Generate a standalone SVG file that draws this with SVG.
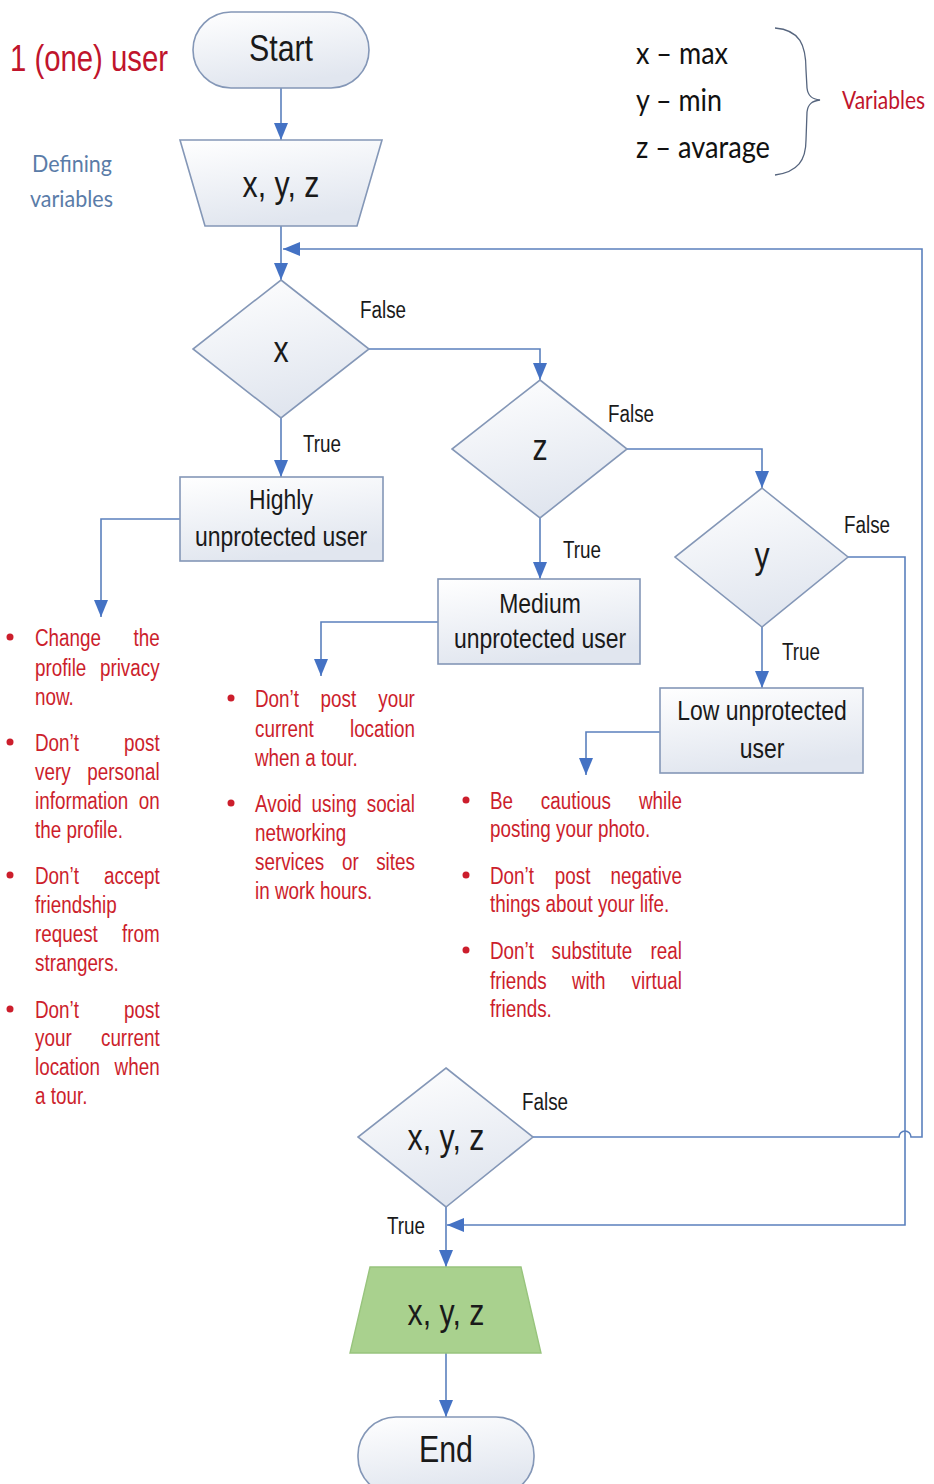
<svg xmlns="http://www.w3.org/2000/svg" width="934" height="1484" viewBox="0 0 934 1484">
  <defs>
    <linearGradient id="shade" x1="0" y1="0" x2="0.3" y2="1">
      <stop offset="0" stop-color="#ffffff"/>
      <stop offset="1" stop-color="#e1e6ef"/>
    </linearGradient>
    <marker id="ah" markerWidth="17" markerHeight="14" refX="17" refY="7" orient="auto" markerUnits="userSpaceOnUse">
      <path d="M0,0 L17,7 L0,14 Z" fill="#4472c4"/>
    </marker>
    <style>
      .shape { fill: url(#shade); stroke: #8497b7; stroke-width: 1.6; }
      .io-end { fill: #a9d18e; stroke: #98c47d; stroke-width: 1.4; }
      .wire { fill: none; stroke: #5b80bd; stroke-width: 1.6; }
      .arrow { marker-end: url(#ah); }
      .lbl { font-family: "Liberation Sans", Arial, sans-serif; fill: #1a1a1a; }
      .node { font-size: 37px; text-anchor: middle; }
      .box { font-size: 28px; text-anchor: middle; }
      .tf { font-size: 23px; }
      .tip { font-family: "Liberation Sans", Arial, sans-serif; font-size: 23px; fill: #cc1e2c; }
      .r { text-anchor: end; }
      .dot { fill: #cc1e2c; }
      .cal { font-family: Lato, "Open Sans", sans-serif; }
    </style>
  </defs>

  <!-- side notes -->
  <g id="note-user">
    <text class="lbl" x="10" y="71" font-size="36" style="fill:#c0142c" textLength="158" lengthAdjust="spacingAndGlyphs">1 (one) user</text>
  </g>
  <g id="note-defining">
    <text class="cal" x="32" y="172" font-size="24" fill="#5a7ca8" textLength="80" lengthAdjust="spacingAndGlyphs">Defining</text>
    <text class="cal" x="30" y="207" font-size="24" fill="#5a7ca8" textLength="83" lengthAdjust="spacingAndGlyphs">variables</text>
  </g>
  <g id="note-variables">
    <text class="cal" x="636" y="64" font-size="30" fill="#111" textLength="92" lengthAdjust="spacingAndGlyphs">x – max</text>
    <text class="cal" x="636" y="111" font-size="30" fill="#111" textLength="86" lengthAdjust="spacingAndGlyphs">y – min</text>
    <text class="cal" x="636" y="158" font-size="30" fill="#111" textLength="134" lengthAdjust="spacingAndGlyphs">z – avarage</text>
    <path d="M775,28 C800,30 806,45 806,70 L807,88 C808,96 812,99 820,100 C812,101 808,104 807,112 L806,140 C806,160 798,172 775,175" fill="none" stroke="#56657e" stroke-width="1.3"/>
    <text class="cal" font-size="25" fill="#c0142c" transform="translate(842,109) scale(0.84,1)">Variables</text>
  </g>

  <!-- connectors -->
  <g id="connectors">
    <path class="wire arrow" d="M281,88 V140"/>
    <path class="wire arrow" d="M281,226 V280"/>
    <path class="wire arrow" d="M533,1137 H899 A6,6 0 0 1 911,1137 H922 V249 H283"/>
    <path class="wire arrow" d="M369,349 H540 V380"/>
    <path class="wire arrow" d="M281,418 V477"/>
    <path class="wire arrow" d="M627,449 H762 V488"/>
    <path class="wire arrow" d="M540,518 V579"/>
    <path class="wire arrow" d="M762,627 V688"/>
    <path class="wire arrow" d="M848,557 H905 V1225 H447"/>
    <path class="wire arrow" d="M180,519 H101 V617"/>
    <path class="wire arrow" d="M438,622 H321 V676"/>
    <path class="wire arrow" d="M660,732 H586 V775"/>
    <path class="wire arrow" d="M446,1207 V1267"/>
    <path class="wire arrow" d="M446,1353 V1417"/>
  </g>

  <!-- nodes (labels use a narrow horizontal scale) -->
  <g id="start">
    <rect class="shape" x="193" y="12" width="176" height="76" rx="38"/>
    <text class="lbl node" transform="translate(281,61) scale(0.82,1)">Start</text>
  </g>
  <g id="input-vars">
    <path class="shape" d="M180,140 H382 L357,226 H205 Z"/>
    <text class="lbl node" transform="translate(281,197) scale(0.82,1)">x, y, z</text>
  </g>
  <g id="decision-x">
    <path class="shape" d="M281,280 L369,349 L281,418 L193,349 Z"/>
    <text class="lbl node" transform="translate(281,362) scale(0.82,1)">x</text>
    <text class="lbl tf" transform="translate(360,318) scale(0.82,1)">False</text>
    <text class="lbl tf" transform="translate(303,452) scale(0.82,1)">True</text>
  </g>
  <g id="decision-z">
    <path class="shape" d="M540,380 L627,449 L540,518 L452,449 Z"/>
    <text class="lbl node" transform="translate(540,460) scale(0.82,1)">z</text>
    <text class="lbl tf" transform="translate(608,422) scale(0.82,1)">False</text>
    <text class="lbl tf" transform="translate(563,558) scale(0.82,1)">True</text>
  </g>
  <g id="decision-y">
    <path class="shape" d="M762,488 L848,557 L762,627 L675,557 Z"/>
    <text class="lbl node" transform="translate(762,568) scale(0.82,1)">y</text>
    <text class="lbl tf" transform="translate(844,533) scale(0.82,1)">False</text>
    <text class="lbl tf" transform="translate(782,660) scale(0.82,1)">True</text>
  </g>
  <g id="highly-unprotected">
    <rect class="shape" x="180" y="477" width="203" height="84"/>
    <text class="lbl box" transform="translate(281,509) scale(0.82,1)">Highly</text>
    <text class="lbl box" transform="translate(281,546) scale(0.82,1)">unprotected user</text>
  </g>
  <g id="medium-unprotected">
    <rect class="shape" x="438" y="579" width="202" height="85"/>
    <text class="lbl box" transform="translate(540,613) scale(0.82,1)">Medium</text>
    <text class="lbl box" transform="translate(540,648) scale(0.82,1)">unprotected user</text>
  </g>
  <g id="low-unprotected">
    <rect class="shape" x="660" y="688" width="203" height="85"/>
    <text class="lbl box" transform="translate(762,720) scale(0.82,1)">Low unprotected</text>
    <text class="lbl box" transform="translate(762,758) scale(0.82,1)">user</text>
  </g>

  <!-- advice lists: justified lines place words at both margins -->
  <g id="tips-high">
    <circle class="dot" cx="10" cy="637" r="3.5"/>
    <circle class="dot" cx="10" cy="742" r="3.5"/>
    <circle class="dot" cx="10" cy="875" r="3.5"/>
    <circle class="dot" cx="10" cy="1009" r="3.5"/>
    <g transform="translate(35,0) scale(0.82,1)">
      <text class="tip" y="646"><tspan x="0">Change</tspan> <tspan class="r" x="152">the</tspan></text>
      <text class="tip" y="676"><tspan x="0">profile</tspan> <tspan class="r" x="152">privacy</tspan></text>
      <text class="tip" x="0" y="705">now.</text>
      <text class="tip" y="751"><tspan x="0">Don’t</tspan> <tspan class="r" x="152">post</tspan></text>
      <text class="tip" y="780"><tspan x="0">very</tspan> <tspan class="r" x="152">personal</tspan></text>
      <text class="tip" y="809"><tspan x="0">information</tspan> <tspan class="r" x="152">on</tspan></text>
      <text class="tip" x="0" y="838">the profile.</text>
      <text class="tip" y="884"><tspan x="0">Don’t</tspan> <tspan class="r" x="152">accept</tspan></text>
      <text class="tip" x="0" y="913">friendship</text>
      <text class="tip" y="942"><tspan x="0">request</tspan> <tspan class="r" x="152">from</tspan></text>
      <text class="tip" x="0" y="971">strangers.</text>
      <text class="tip" y="1018"><tspan x="0">Don’t</tspan> <tspan class="r" x="152">post</tspan></text>
      <text class="tip" y="1046"><tspan x="0">your</tspan> <tspan class="r" x="152">current</tspan></text>
      <text class="tip" y="1075"><tspan x="0">location</tspan> <tspan class="r" x="152">when</tspan></text>
      <text class="tip" x="0" y="1104">a tour.</text>
    </g>
  </g>
  <g id="tips-medium">
    <circle class="dot" cx="231" cy="698" r="3.5"/>
    <circle class="dot" cx="231" cy="803" r="3.5"/>
    <g transform="translate(255,0) scale(0.82,1)">
      <text class="tip" y="707"><tspan x="0">Don’t</tspan> <tspan x="80">post</tspan> <tspan class="r" x="195">your</tspan></text>
      <text class="tip" y="737"><tspan x="0">current</tspan> <tspan class="r" x="195">location</tspan></text>
      <text class="tip" x="0" y="766">when a tour.</text>
      <text class="tip" y="812"><tspan x="0">Avoid</tspan> <tspan x="69">using</tspan> <tspan class="r" x="195">social</tspan></text>
      <text class="tip" x="0" y="841">networking</text>
      <text class="tip" y="870"><tspan x="0">services</tspan> <tspan x="106">or</tspan> <tspan class="r" x="195">sites</tspan></text>
      <text class="tip" x="0" y="899">in work hours.</text>
    </g>
  </g>
  <g id="tips-low">
    <circle class="dot" cx="466" cy="800" r="3.5"/>
    <circle class="dot" cx="466" cy="875" r="3.5"/>
    <circle class="dot" cx="466" cy="950" r="3.5"/>
    <g transform="translate(490,0) scale(0.82,1)">
      <text class="tip" y="809"><tspan x="0">Be</tspan> <tspan x="62">cautious</tspan> <tspan class="r" x="234">while</tspan></text>
      <text class="tip" x="0" y="837">posting your photo.</text>
      <text class="tip" y="884"><tspan x="0">Don’t</tspan> <tspan x="79">post</tspan> <tspan class="r" x="234">negative</tspan></text>
      <text class="tip" x="0" y="912">things about your life.</text>
      <text class="tip" y="959"><tspan x="0">Don’t</tspan> <tspan x="75">substitute</tspan> <tspan class="r" x="234">real</tspan></text>
      <text class="tip" y="989"><tspan x="0">friends</tspan> <tspan x="100">with</tspan> <tspan class="r" x="234">virtual</tspan></text>
      <text class="tip" x="0" y="1017">friends.</text>
    </g>
  </g>

  <g id="decision-all">
    <path class="shape" d="M446,1068 L533,1137 L446,1207 L358,1137 Z"/>
    <text class="lbl node" transform="translate(446,1150) scale(0.82,1)">x, y, z</text>
    <text class="lbl tf" transform="translate(522,1110) scale(0.82,1)">False</text>
    <text class="lbl tf" transform="translate(387,1234) scale(0.82,1)">True</text>
  </g>
  <g id="output-vars">
    <path class="io-end" d="M370,1267 H521 L541,1353 H350 Z"/>
    <text class="lbl node" transform="translate(446,1325) scale(0.82,1)">x, y, z</text>
  </g>
  <g id="end">
    <rect class="shape" x="358" y="1417" width="176" height="78" rx="38"/>
    <text class="lbl node" transform="translate(446,1462) scale(0.82,1)">End</text>
  </g>
</svg>
